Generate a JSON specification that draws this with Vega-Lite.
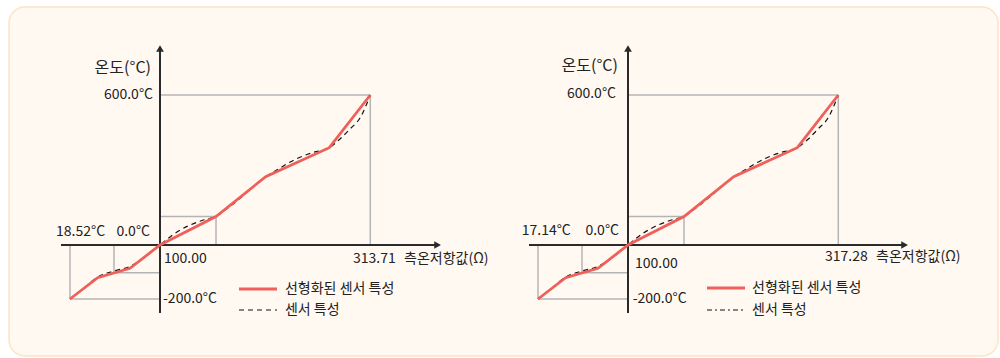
{
  "$schema": "https://vega.github.io/schema/vega-lite/v6.json",
  "width": 989,
  "height": 349,
  "autosize": {"type": "none"},
  "padding": {"left": 9, "top": 7, "right": 2, "bottom": 2},
  "background": "#ffffff",
  "config": {
    "view": {"fill": "#fff9f2", "stroke": "#fbe5c4", "strokeWidth": 1.5, "cornerRadius": 16},
    "font": "Noto Sans CJK KR",
    "text": {"font": "Noto Sans CJK KR"}
  },
  "datasets": {
    "left": [
      {"kind": "lin", "i": 1, "r": 18.52, "t": -200},
      {"kind": "lin", "i": 2, "r": 43.60, "t": -121.1},
      {"kind": "lin", "i": 3, "r": 72.84, "t": -86.3},
      {"kind": "lin", "i": 4, "r": 100, "t": 0},
      {"kind": "lin", "i": 5, "r": 156.91, "t": 114},
      {"kind": "lin", "i": 6, "r": 207.42, "t": 273.2},
      {"kind": "lin", "i": 7, "r": 272.04, "t": 389.2},
      {"kind": "lin", "i": 8, "r": 313.71, "t": 600},
      {"kind": "sensor", "i": 1, "r": 18.52, "t": -200},
      {"kind": "sensor", "i": 2, "r": 31.19, "t": -159.3},
      {"kind": "sensor", "i": 3, "r": 43.60, "t": -118.5},
      {"kind": "sensor", "i": 4, "r": 58.35, "t": -96.3},
      {"kind": "sensor", "i": 5, "r": 72.84, "t": -79.6},
      {"kind": "sensor", "i": 6, "r": 86.42, "t": -44.4},
      {"kind": "sensor", "i": 7, "r": 100, "t": 0},
      {"kind": "sensor", "i": 8, "r": 114.23, "t": 44},
      {"kind": "sensor", "i": 9, "r": 128.45, "t": 76},
      {"kind": "sensor", "i": 10, "r": 142.68, "t": 98},
      {"kind": "sensor", "i": 11, "r": 156.91, "t": 114},
      {"kind": "sensor", "i": 12, "r": 169.10, "t": 148},
      {"kind": "sensor", "i": 13, "r": 182.31, "t": 190},
      {"kind": "sensor", "i": 14, "r": 207.42, "t": 272},
      {"kind": "sensor", "i": 15, "r": 221.95, "t": 308},
      {"kind": "sensor", "i": 16, "r": 239.22, "t": 346},
      {"kind": "sensor", "i": 17, "r": 255.48, "t": 370},
      {"kind": "sensor", "i": 18, "r": 272.04, "t": 389.2},
      {"kind": "sensor", "i": 19, "r": 282.92, "t": 424},
      {"kind": "sensor", "i": 20, "r": 293.08, "t": 464},
      {"kind": "sensor", "i": 21, "r": 303.25, "t": 508},
      {"kind": "sensor", "i": 22, "r": 313.71, "t": 600},
      {"kind": "guide", "r": 18.52, "t": 0, "r2": 18.52, "t2": -200},
      {"kind": "guide", "r": 18.52, "t": -200, "r2": 100, "t2": -200},
      {"kind": "guide", "r": 58.35, "t": 0, "r2": 58.35, "t2": -102.6},
      {"kind": "guide", "r": 58.35, "t": -102.6, "r2": 100, "t2": -102.6},
      {"kind": "guide", "r": 156.91, "t": 0, "r2": 156.91, "t2": 114},
      {"kind": "guide", "r": 100, "t": 114, "r2": 156.91, "t2": 114},
      {"kind": "guide", "r": 313.71, "t": 0, "r2": 313.71, "t2": 600},
      {"kind": "guide", "r": 100, "t": 600, "r2": 313.71, "t2": 600},
      {"kind": "axis", "r": 100, "t": -251.9, "r2": 100, "t2": 786},
      {"kind": "axis", "r": 10.37, "t": 0, "r2": 382.1, "t2": 0},
      {"kind": "arrowUp", "r": 100, "t": 786},
      {"kind": "arrowRight", "r": 382.1, "t": 0},
      {"kind": "ytitle", "r": 91.85, "t": 708, "text": "온도(°C)"},
      {"kind": "labelR", "r": 93.66, "t": 600, "text": "600.0°C"},
      {"kind": "labelR", "r": 90.94, "t": 52, "text": "0.0°C"},
      {"kind": "labelL", "r": 5.85, "t": 52, "text": "18.52°C"},
      {"kind": "labelL", "r": 104.06, "t": -51.9, "text": "100.00"},
      {"kind": "labelL", "r": 103.05, "t": -200, "text": "-200.0°C"},
      {"kind": "labelL", "r": 296.13, "t": -51.9, "text": "313.71"},
      {"kind": "labelL", "r": 347.96, "t": -51.9, "text": "측온저항값(Ω)"},
      {"kind": "labelL", "r": 227.0, "t": -163, "text": "선형화된 센서 특성"},
      {"kind": "labelL", "r": 227.0, "t": -240.7, "text": "센서 특성"},
      {"kind": "legLin", "r": 180.28, "r2": 218.9, "t": -163},
      {"kind": "legSensor", "r": 180.28, "r2": 218.9, "t": -240.7}
    ],
    "right": [
      {"kind": "lin", "i": 1, "r": 17.14, "t": -200},
      {"kind": "lin", "i": 2, "r": 42.64, "t": -121.1},
      {"kind": "lin", "i": 3, "r": 72.38, "t": -86.3},
      {"kind": "lin", "i": 4, "r": 100, "t": 0},
      {"kind": "lin", "i": 5, "r": 157.86, "t": 114},
      {"kind": "lin", "i": 6, "r": 209.21, "t": 273.2},
      {"kind": "lin", "i": 7, "r": 274.92, "t": 389.2},
      {"kind": "lin", "i": 8, "r": 317.28, "t": 600},
      {"kind": "sensor", "i": 1, "r": 17.14, "t": -200},
      {"kind": "sensor", "i": 2, "r": 30.03, "t": -159.3},
      {"kind": "sensor", "i": 3, "r": 42.64, "t": -118.5},
      {"kind": "sensor", "i": 4, "r": 57.65, "t": -96.3},
      {"kind": "sensor", "i": 5, "r": 72.38, "t": -79.6},
      {"kind": "sensor", "i": 6, "r": 86.19, "t": -44.4},
      {"kind": "sensor", "i": 7, "r": 100, "t": 0},
      {"kind": "sensor", "i": 8, "r": 114.46, "t": 44},
      {"kind": "sensor", "i": 9, "r": 128.93, "t": 76},
      {"kind": "sensor", "i": 10, "r": 143.39, "t": 98},
      {"kind": "sensor", "i": 11, "r": 157.86, "t": 114},
      {"kind": "sensor", "i": 12, "r": 170.26, "t": 148},
      {"kind": "sensor", "i": 13, "r": 183.69, "t": 190},
      {"kind": "sensor", "i": 14, "r": 209.21, "t": 272},
      {"kind": "sensor", "i": 15, "r": 223.98, "t": 308},
      {"kind": "sensor", "i": 16, "r": 241.55, "t": 346},
      {"kind": "sensor", "i": 17, "r": 258.08, "t": 370},
      {"kind": "sensor", "i": 18, "r": 274.92, "t": 389.2},
      {"kind": "sensor", "i": 19, "r": 286.29, "t": 424},
      {"kind": "sensor", "i": 20, "r": 296.31, "t": 464},
      {"kind": "sensor", "i": 21, "r": 306.64, "t": 508},
      {"kind": "sensor", "i": 22, "r": 317.28, "t": 600},
      {"kind": "guide", "r": 17.14, "t": 0, "r2": 17.14, "t2": -200},
      {"kind": "guide", "r": 17.14, "t": -200, "r2": 100, "t2": -200},
      {"kind": "guide", "r": 57.65, "t": 0, "r2": 57.65, "t2": -102.6},
      {"kind": "guide", "r": 57.65, "t": -102.6, "r2": 100, "t2": -102.6},
      {"kind": "guide", "r": 157.86, "t": 0, "r2": 157.86, "t2": 114},
      {"kind": "guide", "r": 100, "t": 114, "r2": 157.86, "t2": 114},
      {"kind": "guide", "r": 317.28, "t": 0, "r2": 317.28, "t2": 600},
      {"kind": "guide", "r": 100, "t": 600, "r2": 317.28, "t2": 600},
      {"kind": "axis", "r": 100, "t": -251.9, "r2": 100, "t2": 786},
      {"kind": "axis", "r": 8.85, "t": 0, "r2": 385.78, "t2": 0},
      {"kind": "arrowUp", "r": 100, "t": 786},
      {"kind": "arrowRight", "r": 385.78, "t": 0},
      {"kind": "ytitle", "r": 90.79, "t": 718, "text": "온도(°C)"},
      {"kind": "labelR", "r": 88.95, "t": 604, "text": "600.0°C"},
      {"kind": "labelR", "r": 91.71, "t": 56, "text": "0.0°C"},
      {"kind": "labelL", "r": 2.13, "t": 56, "text": "17.14°C"},
      {"kind": "labelL", "r": 107.23, "t": -70.4, "text": "100.00"},
      {"kind": "labelL", "r": 104.86, "t": -200, "text": "-200.0°C"},
      {"kind": "labelL", "r": 303.54, "t": -44.4, "text": "317.28"},
      {"kind": "labelL", "r": 356.23, "t": -44.4, "text": "측온저항값(Ω)"},
      {"kind": "labelL", "r": 228.12, "t": -159.3, "text": "선형화된 센서 특성"},
      {"kind": "labelL", "r": 228.12, "t": -240.7, "text": "센서 특성"},
      {"kind": "legLin", "r": 181.6, "r2": 220.9, "t": -159.3},
      {"kind": "legSensor", "r": 181.6, "r2": 220.9, "t": -240.7}
    ]
  },
  "resolve": {"scale": {"x": "independent"}},
  "layer": [
    {
      "data": {"name": "left"},
      "layer": [
        {"transform": [{"filter": "datum.kind === 'guide'"}], "mark": {"type": "rule", "color": "#b4b4b4", "strokeWidth": 1.5},
         "encoding": {"x": {"field": "r", "type": "quantitative", "axis": null, "scale": {"domain": [18.52, 100, 313.71], "range": [61, 151, 361.3], "zero": false, "nice": false}}, "x2": {"field": "r2"},
                      "y": {"field": "t", "type": "quantitative", "axis": null, "scale": {"domain": [-200, 0, 600], "range": [292, 238, 88], "zero": false, "nice": false}}, "y2": {"field": "t2"}}},
        {"transform": [{"filter": "datum.kind === 'axis'"}], "mark": {"type": "rule", "color": "#2a2a2a", "strokeWidth": 2},
         "encoding": {"x": {"field": "r", "type": "quantitative", "axis": null, "scale": {"domain": [18.52, 100, 313.71], "range": [61, 151, 361.3], "zero": false, "nice": false}}, "x2": {"field": "r2"},
                      "y": {"field": "t", "type": "quantitative", "axis": null, "scale": {"domain": [-200, 0, 600], "range": [292, 238, 88], "zero": false, "nice": false}}, "y2": {"field": "t2"}}},
        {"transform": [{"filter": "datum.kind === 'arrowUp'"}], "mark": {"type": "point", "shape": "triangle-up", "filled": true, "color": "#2a2a2a", "size": 60, "opacity": 1},
         "encoding": {"x": {"field": "r", "type": "quantitative", "axis": null, "scale": {"domain": [18.52, 100, 313.71], "range": [61, 151, 361.3], "zero": false, "nice": false}},
                      "y": {"field": "t", "type": "quantitative", "axis": null, "scale": {"domain": [-200, 0, 600], "range": [292, 238, 88], "zero": false, "nice": false}}}},
        {"transform": [{"filter": "datum.kind === 'arrowRight'"}], "mark": {"type": "point", "shape": "triangle-right", "filled": true, "color": "#2a2a2a", "size": 60, "opacity": 1},
         "encoding": {"x": {"field": "r", "type": "quantitative", "axis": null, "scale": {"domain": [18.52, 100, 313.71], "range": [61, 151, 361.3], "zero": false, "nice": false}},
                      "y": {"field": "t", "type": "quantitative", "axis": null, "scale": {"domain": [-200, 0, 600], "range": [292, 238, 88], "zero": false, "nice": false}}}},
        {"transform": [{"filter": "datum.kind === 'sensor'"}], "mark": {"type": "line", "color": "#111111", "strokeWidth": 1.2, "strokeDash": [5, 4], "interpolate": "monotone"},
         "encoding": {"x": {"field": "r", "type": "quantitative", "axis": null, "scale": {"domain": [18.52, 100, 313.71], "range": [61, 151, 361.3], "zero": false, "nice": false}},
                      "y": {"field": "t", "type": "quantitative", "axis": null, "scale": {"domain": [-200, 0, 600], "range": [292, 238, 88], "zero": false, "nice": false}}, "order": {"field": "i", "type": "quantitative"}}},
        {"transform": [{"filter": "datum.kind === 'lin'"}], "mark": {"type": "line", "color": "#f0605a", "strokeWidth": 2.8},
         "encoding": {"x": {"field": "r", "type": "quantitative", "axis": null, "scale": {"domain": [18.52, 100, 313.71], "range": [61, 151, 361.3], "zero": false, "nice": false}},
                      "y": {"field": "t", "type": "quantitative", "axis": null, "scale": {"domain": [-200, 0, 600], "range": [292, 238, 88], "zero": false, "nice": false}}, "order": {"field": "i", "type": "quantitative"}}},
        {"transform": [{"filter": "datum.kind === 'legLin'"}], "mark": {"type": "rule", "color": "#f0605a", "strokeWidth": 2.8},
         "encoding": {"x": {"field": "r", "type": "quantitative", "axis": null, "scale": {"domain": [18.52, 100, 313.71], "range": [61, 151, 361.3], "zero": false, "nice": false}}, "x2": {"field": "r2"},
                      "y": {"field": "t", "type": "quantitative", "axis": null, "scale": {"domain": [-200, 0, 600], "range": [292, 238, 88], "zero": false, "nice": false}}}},
        {"transform": [{"filter": "datum.kind === 'legSensor'"}], "mark": {"type": "rule", "color": "#111111", "strokeWidth": 1.2, "strokeDash": [5, 4]},
         "encoding": {"x": {"field": "r", "type": "quantitative", "axis": null, "scale": {"domain": [18.52, 100, 313.71], "range": [61, 151, 361.3], "zero": false, "nice": false}}, "x2": {"field": "r2"},
                      "y": {"field": "t", "type": "quantitative", "axis": null, "scale": {"domain": [-200, 0, 600], "range": [292, 238, 88], "zero": false, "nice": false}}}},
        {"transform": [{"filter": "datum.kind === 'ytitle'"}], "mark": {"type": "text", "align": "right", "baseline": "middle", "fontSize": 16, "color": "#222222"},
         "encoding": {"x": {"field": "r", "type": "quantitative", "axis": null, "scale": {"domain": [18.52, 100, 313.71], "range": [61, 151, 361.3], "zero": false, "nice": false}},
                      "y": {"field": "t", "type": "quantitative", "axis": null, "scale": {"domain": [-200, 0, 600], "range": [292, 238, 88], "zero": false, "nice": false}}, "text": {"field": "text"}}},
        {"transform": [{"filter": "datum.kind === 'labelR'"}], "mark": {"type": "text", "align": "right", "baseline": "middle", "fontSize": 14, "color": "#222222"},
         "encoding": {"x": {"field": "r", "type": "quantitative", "axis": null, "scale": {"domain": [18.52, 100, 313.71], "range": [61, 151, 361.3], "zero": false, "nice": false}},
                      "y": {"field": "t", "type": "quantitative", "axis": null, "scale": {"domain": [-200, 0, 600], "range": [292, 238, 88], "zero": false, "nice": false}}, "text": {"field": "text"}}},
        {"transform": [{"filter": "datum.kind === 'labelL'"}], "mark": {"type": "text", "align": "left", "baseline": "middle", "fontSize": 14, "color": "#222222"},
         "encoding": {"x": {"field": "r", "type": "quantitative", "axis": null, "scale": {"domain": [18.52, 100, 313.71], "range": [61, 151, 361.3], "zero": false, "nice": false}},
                      "y": {"field": "t", "type": "quantitative", "axis": null, "scale": {"domain": [-200, 0, 600], "range": [292, 238, 88], "zero": false, "nice": false}}, "text": {"field": "text"}}}
      ]
    },
    {
      "data": {"name": "right"},
      "layer": [
        {"transform": [{"filter": "datum.kind === 'guide'"}], "mark": {"type": "rule", "color": "#b4b4b4", "strokeWidth": 1.5},
         "encoding": {"x": {"field": "r", "type": "quantitative", "axis": null, "scale": {"domain": [17.14, 100, 317.28], "range": [529, 619, 829.3], "zero": false, "nice": false}}, "x2": {"field": "r2"},
                      "y": {"field": "t", "type": "quantitative", "axis": null, "scale": {"domain": [-200, 0, 600], "range": [292, 238, 88], "zero": false, "nice": false}}, "y2": {"field": "t2"}}},
        {"transform": [{"filter": "datum.kind === 'axis'"}], "mark": {"type": "rule", "color": "#2a2a2a", "strokeWidth": 2},
         "encoding": {"x": {"field": "r", "type": "quantitative", "axis": null, "scale": {"domain": [17.14, 100, 317.28], "range": [529, 619, 829.3], "zero": false, "nice": false}}, "x2": {"field": "r2"},
                      "y": {"field": "t", "type": "quantitative", "axis": null, "scale": {"domain": [-200, 0, 600], "range": [292, 238, 88], "zero": false, "nice": false}}, "y2": {"field": "t2"}}},
        {"transform": [{"filter": "datum.kind === 'arrowUp'"}], "mark": {"type": "point", "shape": "triangle-up", "filled": true, "color": "#2a2a2a", "size": 60, "opacity": 1},
         "encoding": {"x": {"field": "r", "type": "quantitative", "axis": null, "scale": {"domain": [17.14, 100, 317.28], "range": [529, 619, 829.3], "zero": false, "nice": false}},
                      "y": {"field": "t", "type": "quantitative", "axis": null, "scale": {"domain": [-200, 0, 600], "range": [292, 238, 88], "zero": false, "nice": false}}}},
        {"transform": [{"filter": "datum.kind === 'arrowRight'"}], "mark": {"type": "point", "shape": "triangle-right", "filled": true, "color": "#2a2a2a", "size": 60, "opacity": 1},
         "encoding": {"x": {"field": "r", "type": "quantitative", "axis": null, "scale": {"domain": [17.14, 100, 317.28], "range": [529, 619, 829.3], "zero": false, "nice": false}},
                      "y": {"field": "t", "type": "quantitative", "axis": null, "scale": {"domain": [-200, 0, 600], "range": [292, 238, 88], "zero": false, "nice": false}}}},
        {"transform": [{"filter": "datum.kind === 'sensor'"}], "mark": {"type": "line", "color": "#111111", "strokeWidth": 1.2, "strokeDash": [5, 4], "interpolate": "monotone"},
         "encoding": {"x": {"field": "r", "type": "quantitative", "axis": null, "scale": {"domain": [17.14, 100, 317.28], "range": [529, 619, 829.3], "zero": false, "nice": false}},
                      "y": {"field": "t", "type": "quantitative", "axis": null, "scale": {"domain": [-200, 0, 600], "range": [292, 238, 88], "zero": false, "nice": false}}, "order": {"field": "i", "type": "quantitative"}}},
        {"transform": [{"filter": "datum.kind === 'lin'"}], "mark": {"type": "line", "color": "#f0605a", "strokeWidth": 2.8},
         "encoding": {"x": {"field": "r", "type": "quantitative", "axis": null, "scale": {"domain": [17.14, 100, 317.28], "range": [529, 619, 829.3], "zero": false, "nice": false}},
                      "y": {"field": "t", "type": "quantitative", "axis": null, "scale": {"domain": [-200, 0, 600], "range": [292, 238, 88], "zero": false, "nice": false}}, "order": {"field": "i", "type": "quantitative"}}},
        {"transform": [{"filter": "datum.kind === 'legLin'"}], "mark": {"type": "rule", "color": "#f0605a", "strokeWidth": 2.8},
         "encoding": {"x": {"field": "r", "type": "quantitative", "axis": null, "scale": {"domain": [17.14, 100, 317.28], "range": [529, 619, 829.3], "zero": false, "nice": false}}, "x2": {"field": "r2"},
                      "y": {"field": "t", "type": "quantitative", "axis": null, "scale": {"domain": [-200, 0, 600], "range": [292, 238, 88], "zero": false, "nice": false}}}},
        {"transform": [{"filter": "datum.kind === 'legSensor'"}], "mark": {"type": "rule", "color": "#111111", "strokeWidth": 1.2, "strokeDash": [5, 3, 2, 3]},
         "encoding": {"x": {"field": "r", "type": "quantitative", "axis": null, "scale": {"domain": [17.14, 100, 317.28], "range": [529, 619, 829.3], "zero": false, "nice": false}}, "x2": {"field": "r2"},
                      "y": {"field": "t", "type": "quantitative", "axis": null, "scale": {"domain": [-200, 0, 600], "range": [292, 238, 88], "zero": false, "nice": false}}}},
        {"transform": [{"filter": "datum.kind === 'ytitle'"}], "mark": {"type": "text", "align": "right", "baseline": "middle", "fontSize": 16, "color": "#222222"},
         "encoding": {"x": {"field": "r", "type": "quantitative", "axis": null, "scale": {"domain": [17.14, 100, 317.28], "range": [529, 619, 829.3], "zero": false, "nice": false}},
                      "y": {"field": "t", "type": "quantitative", "axis": null, "scale": {"domain": [-200, 0, 600], "range": [292, 238, 88], "zero": false, "nice": false}}, "text": {"field": "text"}}},
        {"transform": [{"filter": "datum.kind === 'labelR'"}], "mark": {"type": "text", "align": "right", "baseline": "middle", "fontSize": 14, "color": "#222222"},
         "encoding": {"x": {"field": "r", "type": "quantitative", "axis": null, "scale": {"domain": [17.14, 100, 317.28], "range": [529, 619, 829.3], "zero": false, "nice": false}},
                      "y": {"field": "t", "type": "quantitative", "axis": null, "scale": {"domain": [-200, 0, 600], "range": [292, 238, 88], "zero": false, "nice": false}}, "text": {"field": "text"}}},
        {"transform": [{"filter": "datum.kind === 'labelL'"}], "mark": {"type": "text", "align": "left", "baseline": "middle", "fontSize": 14, "color": "#222222"},
         "encoding": {"x": {"field": "r", "type": "quantitative", "axis": null, "scale": {"domain": [17.14, 100, 317.28], "range": [529, 619, 829.3], "zero": false, "nice": false}},
                      "y": {"field": "t", "type": "quantitative", "axis": null, "scale": {"domain": [-200, 0, 600], "range": [292, 238, 88], "zero": false, "nice": false}}, "text": {"field": "text"}}}
      ]
    }
  ]
}
